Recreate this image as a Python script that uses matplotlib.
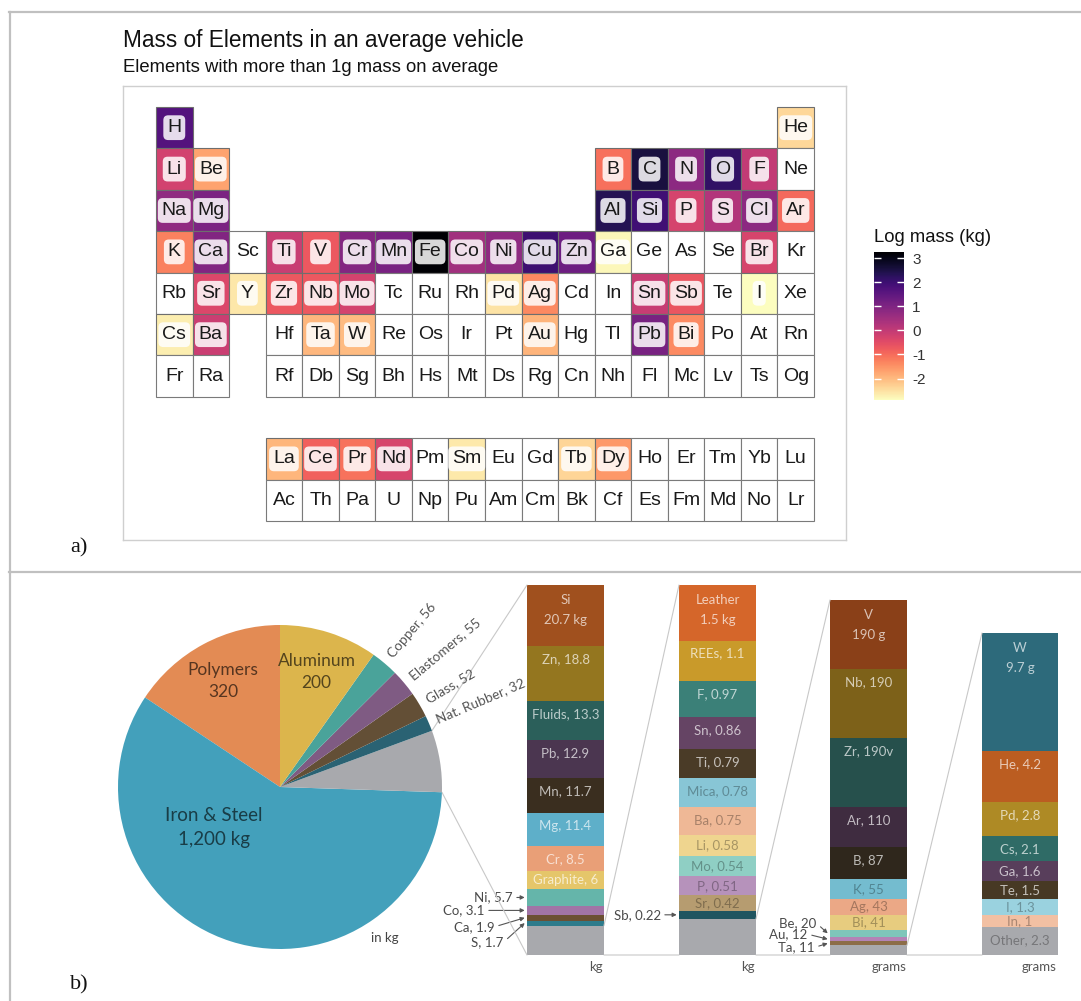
import numpy as np
import matplotlib
matplotlib.use("Agg")
import matplotlib.pyplot as plt
import matplotlib.colors as mcolors
from matplotlib.patches import Rectangle, ConnectionPatch
from matplotlib.lines import Line2D
from matplotlib.cm import ScalarMappable

plt.rcParams['font.family'] = ['Liberation Sans', 'DejaVu Sans']

# ---------------- panel a: periodic table ----------------
ptable_rows = [
    "H . . . . . . . . . . . . . . . . He",
    "Li Be . . . . . . . . . . B C N O F Ne",
    "Na Mg . . . . . . . . . . Al Si P S Cl Ar",
    "K Ca Sc Ti V Cr Mn Fe Co Ni Cu Zn Ga Ge As Se Br Kr",
    "Rb Sr Y Zr Nb Mo Tc Ru Rh Pd Ag Cd In Sn Sb Te I Xe",
    "Cs Ba . Hf Ta W Re Os Ir Pt Au Hg Tl Pb Bi Po At Rn",
    "Fr Ra . Rf Db Sg Bh Hs Mt Ds Rg Cn Nh Fl Mc Lv Ts Og",
    "",
    ". . . La Ce Pr Nd Pm Sm Eu Gd Tb Dy Ho Er Tm Yb Lu",
    ". . . Ac Th Pa U Np Pu Am Cm Bk Cf Es Fm Md No Lr",
]

measured_symbols = ["H", "He", "Li", "Be", "B", "C", "N", "O", "F", "Na", "Mg",
                    "Al", "Si", "P", "S", "Cl", "Ar", "K", "Ca", "Ti", "V", "Cr",
                    "Mn", "Fe", "Co", "Ni", "Cu", "Zn", "Ga", "Br", "Sr", "Y", "Zr",
                    "Nb", "Mo", "Pd", "Ag", "Sn", "Sb", "I", "Cs", "Ba", "Ta",
                    "W", "Au", "Pb", "Bi", "La", "Ce", "Pr", "Nd", "Sm", "Tb", "Dy"]
log_mass_kg = [1.65, -2.38, -0.24, -1.70, -1.06, 2.55, 0.80, 2.15, -0.01, 0.75, 1.06,
               2.35, 1.95, -0.29, 0.23, 0.80, -0.96, -1.26, 0.95, -0.10, -0.72, 0.93,
               1.07, 3.25, 0.49, 0.76, 2.00, 1.27, -2.80, -0.30, -0.38, -2.60, -0.72,
               -0.72, -0.27, -2.55, -1.37, -0.07, -0.66, -2.89, -2.68, -0.12, -1.96,
               -2.01, -1.92, 1.11, -1.39, -1.95, -0.85, -1.08, -0.30, -2.62, -2.35, -1.55]
cbar_ticks = [3, 2, 1, 0, -1, -2]

# ---------------- panel b: pie + breakdown stacks ----------------
pie_names = ["Polymers", "Iron & Steel", "Other", "Nat. Rubber", "Glass",
             "Elastomers", "Copper", "Aluminum"]
pie_known_kg = {"Polymers": 320, "Iron & Steel": 1200, "Nat. Rubber": 32,
                "Glass": 52, "Elastomers": 55, "Copper": 56, "Aluminum": 200}
pie_colors = ["#e38b54", "#43a0bb", "#a8a9ad", "#2a6273", "#634f36",
              "#7f5b83", "#4aa39a", "#dcb54c"]

stack1_names = ["Si", "Zn", "Fluids", "Pb", "Mn", "Mg", "Cr", "Graphite", "Ni", "Co", "Ca", "S"]
stack1_kg = [20.7, 18.8, 13.3, 12.9, 11.7, 11.4, 8.5, 6, 5.7, 3.1, 1.9, 1.7]
stack1_colors = ["#a0501e", "#94761f", "#2b5f5a", "#4b3650", "#3a2e1f", "#5eafc9",
                 "#e99f77", "#e5c66a", "#65b5aa", "#a174a6", "#6b5033", "#2d7b8b"]

stack2_names = ["Leather", "REEs", "F", "Sn", "Ti", "Mica", "Ba", "Li", "Mo", "P", "Sr", "Sb"]
stack2_kg = [1.5, 1.1, 0.97, 0.86, 0.79, 0.78, 0.75, 0.58, 0.54, 0.51, 0.42, 0.22]
stack2_colors = ["#d5662a", "#c99a2a", "#3b8078", "#654464", "#4a3b27", "#88c6d6",
                 "#efb896", "#efd58f", "#8fcfc4", "#b692bb", "#b69c70", "#1f5560"]

stack3_names = ["V", "Nb", "Zr", "Ar", "B", "K", "Ag", "Bi", "Be", "Au", "Ta"]
stack3_g = [190, 190, 190, 110, 87, 55, 43, 41, 20, 12, 11]
stack3_colors = ["#8a4018", "#7d6119", "#26504c", "#3f2c40", "#2f271c", "#74bccf",
                 "#eba886", "#e7cc7f", "#7fc6ba", "#b483b6", "#8c6d48"]

stack4_names = ["W", "He", "Pd", "Cs", "Ga", "Te", "I", "In", "Other"]
stack4_g = [9.7, 4.2, 2.8, 2.1, 1.6, 1.5, 1.3, 1, 2.3]
stack4_colors = ["#2d6a7b", "#bb5d21", "#ae8a25", "#2f6b66", "#583e5b", "#473924",
                 "#9ad2df", "#f2c0a3", "#a8a9ad"]

label_text_override = {"Zr": "Zr, 190v"}

# ---------------- helpers ----------------
W, H = 1081, 1001
fig = plt.figure(figsize=(W / 100, H / 100), dpi=100)


def box(x0, y0, x1, y1):
    return [x0 / W, 1 - y1 / H, (x1 - x0) / W, (y1 - y0) / H]


def fx(x):
    return x / W


def fy(y):
    return 1 - y / H


def mix(c, target, t):
    c = np.array(mcolors.to_rgb(c))
    return tuple(c * (1 - t) + np.array(target) * t)


def lum(c):
    r, g, b = mcolors.to_rgb(c)
    return 0.299 * r + 0.587 * g + 0.114 * b


# outer frame
frame_kw = dict(color="#c0c0c0", lw=1.6, transform=fig.transFigure)
fig.add_artist(Line2D([fx(10), fx(10)], [fy(12), 0], **frame_kw))
fig.add_artist(Line2D([fx(9), 1], [fy(12), fy(12)], **frame_kw))
fig.add_artist(Line2D([fx(9), 1], [fy(572), fy(572)], **frame_kw))

fig.text(fx(70), fy(548), "a)", family="Liberation Serif", fontsize=16,
         ha="left", va="center", color="#111111")
fig.text(fx(70), fy(985), "b)", family="Liberation Serif", fontsize=16,
         ha="left", va="center", color="#111111")

# ---------------- panel a drawing ----------------
fig.text(fx(123), fy(40), "Mass of Elements in an average vehicle",
         fontsize=16.3, ha="left", va="center", color="#111111")
fig.text(fx(123), fy(68), "Elements with more than 1g mass on average",
         fontsize=13.3, ha="left", va="center", color="#111111")

ax = fig.add_axes(box(123, 86, 846, 540))
ax.set_xlim(-0.403, 19.375)
ax.set_ylim(10.96, -0.007)
ax.set_xticks([])
ax.set_yticks([])
for s in ax.spines.values():
    s.set_color("#cfcfcf")
    s.set_linewidth(1.0)

norm = mcolors.Normalize(vmin=min(log_mass_kg), vmax=max(log_mass_kg))
cmap = plt.get_cmap("magma_r")
mass_of = dict(zip(measured_symbols, log_mass_kg))

for r, row in enumerate(ptable_rows, start=1):
    if not row:
        continue
    for c, sym in enumerate(row.split(), start=1):
        if sym == ".":
            continue
        if sym in mass_of:
            fc = cmap(norm(mass_of[sym]))
            ax.add_patch(Rectangle((c - 0.5, r - 0.5), 1, 1, facecolor=fc,
                                   edgecolor="#6e6e6e", lw=0.8))
            ax.text(c, r, sym, ha="center", va="center", fontsize=14,
                    color="#1a1a1a",
                    bbox=dict(boxstyle="round,pad=0.2,rounding_size=0.25",
                              fc="white", ec="none", alpha=0.85))
        else:
            ax.add_patch(Rectangle((c - 0.5, r - 0.5), 1, 1, facecolor="white",
                                   edgecolor="#7a7a7a", lw=0.8))
            ax.text(c, r, sym, ha="center", va="center", fontsize=14,
                    color="#1a1a1a")

fig.text(fx(874), fy(238), "Log mass (kg)", fontsize=13.3, ha="left",
         va="center", color="#111111")
cax = fig.add_axes(box(874, 252, 904, 400))
cb = fig.colorbar(ScalarMappable(norm=norm, cmap=cmap), cax=cax)
cb.outline.set_visible(False)
cb.set_ticks(cbar_ticks)
cb.set_ticklabels([str(t) for t in cbar_ticks])
cax.tick_params(axis="y", direction="in", color="white", length=5, width=1,
                left=True, right=True, labelleft=False, labelright=True,
                labelsize=11, labelcolor="#333333", pad=6)

# ---------------- panel b drawing ----------------
stacks = [
    (stack1_names, list(stack1_kg), stack1_colors, "kg", "kg"),
    (stack2_names, list(stack2_kg), stack2_colors, "kg", "kg"),
    (stack3_names, list(stack3_g), stack3_colors, "g", "grams"),
    (stack4_names, list(stack4_g), stack4_colors, "g", "grams"),
]
stack_boxes = [(527, 585, 604, 955), (679, 585, 756, 955),
               (830, 600, 907, 955), (982, 633, 1058, 955)]
light_text_all = [True, False, False, False]

# remainder segment of each stack = total of the stack that follows it
total4 = sum(stack4_g)                                  # g
total3 = sum(stack3_g) + total4                         # g
total2 = sum(stack2_kg) + total3 / 1000.0               # kg
total1 = sum(stack1_kg) + total2                        # kg
remainders = [total2, total3 / 1000.0, total4, None]
other_kg = total1

pie_values = [other_kg if n == "Other" else pie_known_kg[n] for n in pie_names]
pie_total = sum(pie_values)

lato = ["Lato", "DejaVu Sans"]

# pie
cx, cy, R = 280, 787, 162
pax = fig.add_axes(box(cx - R, cy - R, cx + R, cy + R))
pax.set_zorder(5)
wedges, _ = pax.pie(pie_values, colors=pie_colors, startangle=90, counterclock=True,
                    radius=1, wedgeprops=dict(linewidth=0))
pax.set_xlim(-1, 1)
pax.set_ylim(-1, 1)
pax.set_aspect("equal")
pax.axis("off")

angles = []
a0 = 90.0
for v in pie_values:
    a1 = a0 + v / pie_total * 360.0
    angles.append((a0, a1))
    a0 = a1

for name, v, col, (t0, t1) in zip(pie_names, pie_values, pie_colors, angles):
    mid = np.deg2rad((t0 + t1) / 2)
    if name in ("Polymers", "Aluminum"):
        pax.text(0.745 * np.cos(mid), 0.745 * np.sin(mid), f"{name}\n{v:,.0f}",
                 ha="center", va="center", fontsize=12.5, family=lato,
                 color=mix(col, (0, 0, 0), 0.62), linespacing=1.45)
    elif name == "Iron & Steel":
        pax.text(-0.41, -0.25, f"{name}\n{v:,.0f} kg", ha="center", va="center",
                 fontsize=13.5, family=lato, color=mix(col, (0, 0, 0), 0.62),
                 linespacing=1.45)
    elif name != "Other":
        mdeg = (t0 + t1) / 2
        pax.text(1.055 * np.cos(mid), 1.055 * np.sin(mid), f"{name}, {v:,.0f}",
                 ha="left", va="center", rotation=mdeg, rotation_mode="anchor",
                 fontsize=9.8, family=lato, color="#555555")
pax.text(0.65, -0.93, "in kg", ha="center", va="center", fontsize=9.5,
         family=lato, color="#444444")

arrow_offsets = {"Ni": (-12, 0), "Co": (-40, 0), "Ca": (-30, 9), "S": (-21, 19),
                 "Sb": (-16, 0), "Be": (-11, -10), "Au": (-20, -5), "Ta": (-13, 4)}

# stacks
stack_axes = []
for k, ((names, vals, cols, unit, axis_unit), (x0, y0, x1, y1)) in enumerate(
        zip(stacks, stack_boxes)):
    sax = fig.add_axes(box(x0, y0, x1, y1))
    stack_axes.append(sax)
    rem = remainders[k]
    seg_vals = list(vals) + ([rem] if rem is not None else [])
    seg_cols = list(cols) + (["#a8a9ad"] if rem is not None else [])
    total = sum(seg_vals)
    px_per_unit = (y1 - y0) / total
    top = total
    tops = []
    for v, c in zip(seg_vals, seg_cols):
        sax.bar(0, v, bottom=top - v, width=1.0, color=c, linewidth=0)
        tops.append(top)
        top -= v
    sax.set_xlim(-0.5, 0.5)
    sax.set_ylim(0, total)
    sax.axis("off")

    for i, (name, v, c) in enumerate(zip(names, vals, cols)):
        t = tops[i]
        if light_text_all[k] or lum(c) < 0.615:
            tc = mix(c, (1, 1, 1), 0.68)
        else:
            tc = mix(c, (0, 0, 0), 0.3)
        if i == 0:
            sax.annotate(name, xy=(0, t), xytext=(0, -15), textcoords="offset pixels",
                         ha="center", va="center", fontsize=9.5, family=lato, color=tc)
            sax.annotate(f"{v:g} {unit}", xy=(0, t), xytext=(0, -35),
                         textcoords="offset pixels", ha="center", va="center",
                         fontsize=9.5, family=lato, color=tc)
        elif name in arrow_offsets:
            dx, dy = arrow_offsets[name]
            sax.annotate(f"{name}, {v:g}", xy=(-0.53, t - v / 2),
                         xytext=(dx, -dy), textcoords="offset pixels",
                         ha="right", va="center", fontsize=9.5, family=lato,
                         color="#4a4a4a", annotation_clip=False,
                         arrowprops=dict(arrowstyle="-|>", color="#555555", lw=0.8,
                                         mutation_scale=6, shrinkA=1, shrinkB=0,
                                         relpos=(1.0, 0.5)))
        else:
            h_px = v * px_per_unit
            off = min(13.0, h_px / 2)
            txt = label_text_override.get(name, f"{name}, {v:g}")
            sax.annotate(txt, xy=(0, t), xytext=(0, -off), textcoords="offset pixels",
                         ha="center", va="center", fontsize=9.5, family=lato, color=tc)
    fig.text(fx(x1 - 1), fy(y1 + 12), axis_unit, ha="right", va="center",
             fontsize=9.5, family=lato, color="#555555")

# connector lines: pie remainder -> first stack, stack remainder -> next stack
line_kw = dict(color="#c8c8c8", lw=0.8)
oth = pie_names.index("Other")
t_lo, t_hi = np.deg2rad(angles[oth][0]), np.deg2rad(angles[oth][1])
fig.add_artist(ConnectionPatch(xyA=(np.cos(t_hi), np.sin(t_hi)), coordsA=pax.transData,
                               xyB=(0, 1), coordsB=stack_axes[0].transAxes, **line_kw))
fig.add_artist(ConnectionPatch(xyA=(np.cos(t_lo), np.sin(t_lo)), coordsA=pax.transData,
                               xyB=(0, 0), coordsB=stack_axes[0].transAxes, **line_kw))
for k in range(3):
    a, b = stack_axes[k], stack_axes[k + 1]
    fig.add_artist(ConnectionPatch(xyA=(1, remainders[k]), coordsA=a.get_yaxis_transform(),
                                   xyB=(0, 1), coordsB=b.transAxes, **line_kw))
    fig.add_artist(ConnectionPatch(xyA=(1, 0), coordsA=a.transAxes,
                                   xyB=(0, 0), coordsB=b.transAxes, **line_kw))

fig.savefig("out.png", dpi=100)
